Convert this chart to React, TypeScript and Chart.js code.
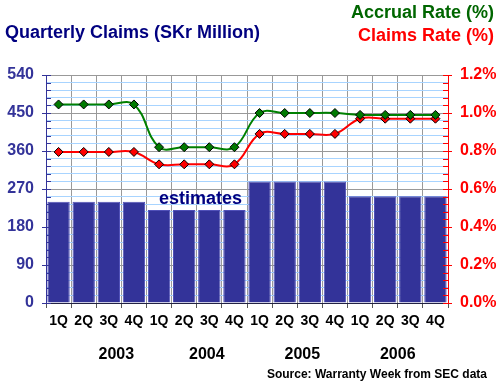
import React, { useEffect, useRef } from 'react';
import { Chart, registerables } from 'chart.js';

Chart.register(...registerables);

const quarterLabels = ['1Q', '2Q', '3Q', '4Q', '1Q', '2Q', '3Q', '4Q', '1Q', '2Q', '3Q', '4Q', '1Q', '2Q', '3Q', '4Q'];
const yearLabels = ['2003', '2004', '2005', '2006'];
// where each year label sits, in quarter-index units along the axis (as placed in the original)
const yearLabelAt = [2.8, 6.4, 10.2, 14.0];
const quarterlyClaims = [240, 240, 240, 240, 220, 220, 220, 220, 288, 288, 288, 288, 253, 253, 253, 253];
const accrualRate = [1.045, 1.045, 1.045, 1.045, 0.82, 0.82, 0.82, 0.82, 1.0, 1.0, 1.0, 1.0, 0.99, 0.99, 0.99, 0.99];
const claimsRate = [0.795, 0.795, 0.795, 0.795, 0.73, 0.73, 0.73, 0.73, 0.89, 0.89, 0.89, 0.89, 0.97, 0.97, 0.97, 0.97];
const leftMax = 540;
const leftMajor = 90;
const leftMinor = 18;
const rightMax = 1.2;
const rightMajor = 0.2;
const rightMinor = 0.04;

const FONT = "'Liberation Sans', Arial, sans-serif";
const NAVY = '#333399';

const isMajor = (v: number, step: number) => {
  const r = v / step;
  return Math.abs(r - Math.round(r)) < 1e-6;
};

const innerTicks = {
  id: 'innerTicks',
  afterDraw(chart: any) {
    const { ctx, chartArea, scales } = chart;
    ctx.save();
    ctx.lineWidth = 1;
    ctx.strokeStyle = NAVY;
    scales.y.ticks.forEach((t: any) => {
      const p = Math.round(scales.y.getPixelForValue(t.value)) + 0.5;
      ctx.beginPath();
      ctx.moveTo(chartArea.left, p);
      ctx.lineTo(chartArea.left + 5, p);
      ctx.stroke();
    });
    ctx.strokeStyle = '#ff0000';
    scales.y1.ticks.forEach((t: any) => {
      const p = Math.round(scales.y1.getPixelForValue(t.value)) + 0.5;
      ctx.beginPath();
      ctx.moveTo(chartArea.right - 5, p);
      ctx.lineTo(chartArea.right, p);
      ctx.stroke();
    });
    ctx.restore();
  },
};

export default function App() {
  const ref = useRef<HTMLCanvasElement | null>(null);

  useEffect(() => {
    document.body.style.margin = '0';
    if (!ref.current) return;
    const chart = new Chart(ref.current, {
      type: 'bar',
      data: {
        labels: quarterLabels,
        datasets: [
          {
            type: 'line',
            label: 'Accrual Rate (%)',
            data: accrualRate,
            yAxisID: 'y1',
            xAxisID: 'x',
            borderColor: '#008000',
            borderWidth: 2,
            backgroundColor: '#008000',
            pointStyle: 'rectRot',
            pointRadius: 4.5,
            pointBorderColor: '#000000',
            pointBorderWidth: 1,
            pointBackgroundColor: '#007a00',
            tension: 0.4,
            order: 0,
          } as any,
          {
            type: 'line',
            label: 'Claims Rate (%)',
            data: claimsRate,
            yAxisID: 'y1',
            xAxisID: 'x',
            borderColor: '#ff0000',
            borderWidth: 2,
            backgroundColor: '#ff0000',
            pointStyle: 'rectRot',
            pointRadius: 4.5,
            pointBorderColor: '#000000',
            pointBorderWidth: 1,
            pointBackgroundColor: '#ff0000',
            tension: 0.4,
            order: 1,
          } as any,
          {
            type: 'bar',
            label: 'Quarterly Claims (SKr Million)',
            data: quarterlyClaims,
            yAxisID: 'y',
            xAxisID: 'x',
            backgroundColor: NAVY,
            borderColor: '#5050b8',
            borderWidth: 1,
            barPercentage: 1,
            categoryPercentage: 0.89,
            order: 2,
          } as any,
        ],
      },
      options: {
        animation: false,
        responsive: false,
        maintainAspectRatio: false,
        layout: { padding: { top: 75, left: 0, right: 0, bottom: 0 } },
        plugins: {
          legend: { display: false },
          tooltip: { enabled: false },
          title: { display: false },
        },
        scales: {
          x: {
            type: 'category',
            position: 'bottom',
            weight: 0,
            offset: true,
            grid: {
              offset: true,
              color: '#999999',
              tickColor: '#555555',
              tickLength: 5,
              lineWidth: 1,
            },
            border: { display: true, color: '#222244', width: 1 },
            ticks: {
              color: '#000000',
              font: { family: FONT, size: 14, weight: 'bold' },
              padding: 5,
              autoSkip: false,
              maxRotation: 0,
            },
            afterFit: (s: any) => {
              s.height = 36;
            },
          },
          x2: {
            type: 'linear',
            position: 'bottom',
            weight: 1,
            offset: false,
            min: 0,
            max: quarterLabels.length,
            grid: { display: false, drawTicks: false, offset: false },
            border: { display: false },
            afterBuildTicks: (s: any) => {
              s.ticks = yearLabelAt.map((v) => ({ value: v }));
            },
            ticks: {
              color: '#000000',
              font: { family: FONT, size: 16, weight: 'bold' },
              padding: 6,
              autoSkip: false,
              maxRotation: 0,
              callback: (_v: any, i: number) => yearLabels[i],
            },
            afterFit: (s: any) => {
              s.height = 46;
            },
          },
          y: {
            type: 'linear',
            position: 'left',
            min: 0,
            max: leftMax,
            grid: {
              color: (c: any) => (c.tick && isMajor(c.tick.value, leftMajor) ? '#999999' : '#a8d4ff'),
              tickColor: (c: any) => (c.tick && isMajor(c.tick.value, leftMajor) ? NAVY : 'rgba(0,0,0,0)'),
              tickLength: 4,
              lineWidth: 1,
            },
            border: { display: true, color: NAVY, width: 1 },
            ticks: {
              stepSize: leftMinor,
              autoSkip: false,
              color: NAVY,
              padding: 8,
              font: { family: FONT, size: 16, weight: 'bold' },
              callback: (v: any) => (isMajor(Number(v), leftMajor) ? String(v) : ''),
            },
            afterFit: (s: any) => {
              s.width = 46;
            },
          },
          y1: {
            type: 'linear',
            position: 'right',
            min: 0,
            max: rightMax,
            grid: {
              drawOnChartArea: false,
              tickColor: (c: any) => (c.tick && isMajor(c.tick.value, rightMajor) ? '#ff0000' : 'rgba(0,0,0,0)'),
              tickLength: 4,
            },
            border: { display: true, color: '#ff0000', width: 1 },
            ticks: {
              stepSize: rightMinor,
              autoSkip: false,
              color: '#ff0000',
              padding: 8,
              font: { family: FONT, size: 16, weight: 'bold' },
              callback: (v: any) => (isMajor(Number(v), rightMajor) ? Number(v).toFixed(1) + '%' : ''),
            },
            afterFit: (s: any) => {
              s.width = 52;
            },
          },
        },
      } as any,
      plugins: [innerTicks],
    });
    return () => chart.destroy();
  }, []);

  const textBase: React.CSSProperties = {
    position: 'absolute',
    fontFamily: FONT,
    fontWeight: 'bold',
    lineHeight: '20px',
    whiteSpace: 'nowrap',
    margin: 0,
  };

  return (
    <div style={{ position: 'relative', width: 500, height: 385, background: '#ffffff', overflow: 'hidden' }}>
      <canvas ref={ref} width={500} height={385} style={{ position: 'absolute', left: 0, top: 0, width: 500, height: 385 }} />
      <div style={{ ...textBase, left: 5, top: 22, fontSize: 18, color: '#000080' }}>Quarterly Claims (SKr Million)</div>
      <div style={{ ...textBase, right: 6, top: 2, fontSize: 18, color: '#006600' }}>Accrual Rate (%)</div>
      <div style={{ ...textBase, right: 6, top: 25, fontSize: 18, color: '#ff0000' }}>Claims Rate (%)</div>
      <div style={{ ...textBase, left: 159, top: 188, fontSize: 18, color: '#000080' }}>estimates</div>
      <div style={{ ...textBase, right: 13, top: 364, fontSize: 12, color: '#000000' }}>Source: Warranty Week from SEC data</div>
    </div>
  );
}
